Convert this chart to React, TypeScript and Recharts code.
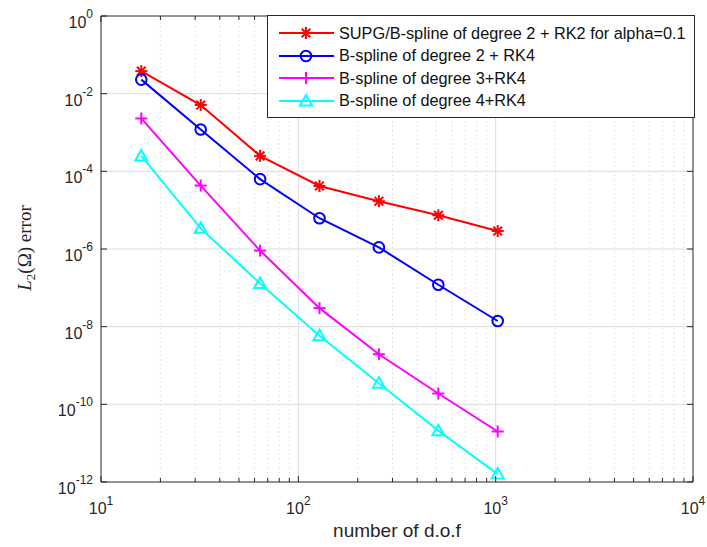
import React from "react";
import { LineChart, Line, XAxis, YAxis, ReferenceLine } from "recharts";

// degrees of freedom (x) and L2 errors per method (y)
const dof = [16, 32, 64, 128, 256, 512, 1024];
const supgRk2 = [3.8e-2, 5.1e-3, 2.5e-4, 4.2e-5, 1.7e-5, 7.4e-6, 2.9e-6];
const deg2Rk4 = [2.3e-2, 1.2e-3, 6.3e-5, 6.2e-6, 1.1e-6, 1.2e-7, 1.4e-8];
const deg3Rk4 = [2.3e-3, 4.3e-5, 9.1e-7, 3.0e-8, 1.95e-9, 1.9e-10, 2.0e-11];
const deg4Rk4 = [2.5e-4, 3.4e-6, 1.3e-7, 5.8e-9, 3.5e-10, 2.1e-11, 1.6e-12];

const xMajor = [10, 100, 1000, 10000];
const xMinor = [
  20, 30, 40, 50, 60, 70, 80, 90,
  200, 300, 400, 500, 600, 700, 800, 900,
  2000, 3000, 4000, 5000, 6000, 7000, 8000, 9000,
];
const yMajor = [1e-12, 1e-10, 1e-8, 1e-6, 1e-4, 1e-2, 1];

const seriesNames = [
  "SUPG/B-spline of degree 2 + RK2 for alpha=0.1",
  "B-spline of degree 2 + RK4",
  "B-spline of degree 3+RK4",
  "B-spline of degree 4+RK4",
];

const data = dof.map((d, i) => ({
  dof: d,
  supg: supgRk2[i],
  b2: deg2Rk4[i],
  b3: deg3Rk4[i],
  b4: deg4Rk4[i],
}));

const AXIS = "#262626";
const SANS = '"Liberation Sans", Arial, Helvetica, sans-serif';
const SERIF = '"Liberation Serif", "DejaVu Serif", serif';
const MAJOR_GRID = "#dcdcdc";
const MINOR_GRID = "#cfcfcf";

const expOf = (v: number) => Math.round(Math.log10(v));

type MarkerKind = "asterisk" | "circle" | "plus" | "triangle";

function Marker({ cx, cy, color, kind }: { cx: number; cy: number; color: string; kind: MarkerKind }) {
  if (cx == null || cy == null) return null;
  const p = { stroke: color, strokeWidth: 2, fill: "none" };
  if (kind === "circle") return <circle cx={cx} cy={cy} r={5.3} {...p} />;
  if (kind === "plus") {
    const s = 6;
    return (
      <g {...p}>
        <line x1={cx - s} x2={cx + s} y1={cy} y2={cy} />
        <line x1={cx} x2={cx} y1={cy - s} y2={cy + s} />
      </g>
    );
  }
  if (kind === "triangle") {
    const s = 6;
    return <polygon points={`${cx},${cy - s} ${cx + s},${cy + s * 0.75} ${cx - s},${cy + s * 0.75}`} {...p} />;
  }
  const s = 6;
  const d = s * 0.72;
  return (
    <g {...p}>
      <line x1={cx - s} x2={cx + s} y1={cy} y2={cy} />
      <line x1={cx} x2={cx} y1={cy - s} y2={cy + s} />
      <line x1={cx - d} x2={cx + d} y1={cy - d} y2={cy + d} />
      <line x1={cx - d} x2={cx + d} y1={cy + d} y2={cy - d} />
    </g>
  );
}

const series: { key: string; color: string; kind: MarkerKind }[] = [
  { key: "supg", color: "#ff0000", kind: "asterisk" },
  { key: "b2", color: "#0000ff", kind: "circle" },
  { key: "b3", color: "#ff00ff", kind: "plus" },
  { key: "b4", color: "#00ffff", kind: "triangle" },
];

function BottomTick({ x, y, payload }: any) {
  const major = xMajor.includes(payload.value);
  return (
    <g>
      <line x1={x} x2={x} y1={y} y2={y - (major ? 6 : 4)} stroke={AXIS} />
      {major && (
        <text x={x} y={y + 32} textAnchor="middle" fontSize={16} fontFamily={SANS} fill={AXIS}>
          10
          <tspan dy={-9} fontSize={12}>{expOf(payload.value)}</tspan>
        </text>
      )}
    </g>
  );
}

function TopTick({ x, y, payload }: any) {
  const major = xMajor.includes(payload.value);
  return <line x1={x} x2={x} y1={y} y2={y + (major ? 6 : 4)} stroke={AXIS} />;
}

function LeftTick({ x, y, payload }: any) {
  return (
    <g>
      <line x1={x} x2={x + 6} y1={y} y2={y} stroke={AXIS} />
      <text x={x - 8} y={y + 12} textAnchor="end" fontSize={16} fontFamily={SANS} fill={AXIS}>
        10
        <tspan dy={-10} fontSize={12}>{expOf(payload.value)}</tspan>
      </text>
    </g>
  );
}

function RightTick({ x, y }: any) {
  return <line x1={x} x2={x - 6} y1={y} y2={y} stroke={AXIS} />;
}

function LegendBox() {
  return (
    <div
      style={{
        position: "absolute",
        left: 267,
        top: 15,
        width: 426,
        height: 101,
        border: `1px solid ${AXIS}`,
        background: "#fff",
        fontFamily: SANS,
        fontSize: 16.3,
        color: "#111",
      }}
    >
      {series.map((s, i) => (
        <div key={s.key} style={{ position: "absolute", left: 0, top: 6 + i * 22.5, height: 22, display: "flex", alignItems: "center" }}>
          <svg width={70} height={22} style={{ display: "block" }}>
            <line x1={11} x2={66} y1={11} y2={11} stroke={s.color} strokeWidth={2} />
            <Marker cx={38} cy={11} color={s.color} kind={s.kind} />
          </svg>
          <span style={{ marginLeft: 1, whiteSpace: "nowrap" }}>{seriesNames[i]}</span>
        </div>
      ))}
    </div>
  );
}

const xAxisCommon = {
  dataKey: "dof",
  type: "number" as const,
  scale: "log" as const,
  domain: [10, 10000],
  allowDataOverflow: true,
  ticks: [...xMajor, ...xMinor],
  interval: 0 as const,
  height: 1,
  tickSize: 0,
  tickMargin: 0,
  tickLine: false,
  axisLine: { stroke: AXIS },
};

const yAxisCommon = {
  type: "number" as const,
  scale: "log" as const,
  domain: [1e-12, 1],
  allowDataOverflow: true,
  ticks: yMajor,
  interval: 0 as const,
  width: 1,
  tickSize: 0,
  tickMargin: 0,
  tickLine: false,
  axisLine: { stroke: AXIS },
};

export default function App() {
  return (
    <div style={{ position: "absolute", left: 0, top: 0, width: 707, height: 547, background: "#fff" }}>
      <LineChart width={707} height={547} data={data} margin={{ top: 15, right: 13, bottom: 64, left: 100 }}>
        <XAxis xAxisId="b" {...xAxisCommon} tick={<BottomTick />} />
        <XAxis xAxisId="t" orientation="top" {...xAxisCommon} tick={<TopTick />} />
        <YAxis yAxisId="l" {...yAxisCommon} tick={<LeftTick />} />
        <YAxis yAxisId="r" orientation="right" {...yAxisCommon} tick={<RightTick />} />
        {xMinor.map((v) => (
          <ReferenceLine key={`mx${v}`} xAxisId="b" yAxisId="l" x={v} stroke={MINOR_GRID} strokeDasharray="1 3.5" />
        ))}
        {xMajor.slice(1, -1).map((v) => (
          <ReferenceLine key={`Mx${v}`} xAxisId="b" yAxisId="l" x={v} stroke={MAJOR_GRID} />
        ))}
        {yMajor.slice(1, -1).map((v) => (
          <ReferenceLine key={`My${v}`} xAxisId="b" yAxisId="l" y={v} stroke={MAJOR_GRID} />
        ))}
        {series.map((s) => (
          <Line
            key={s.key}
            xAxisId="b"
            yAxisId="l"
            dataKey={s.key}
            stroke={s.color}
            strokeWidth={2}
            isAnimationActive={false}
            dot={(p: any) => <Marker key={`${s.key}${p.index}`} cx={p.cx} cy={p.cy} color={s.color} kind={s.kind} />}
            activeDot={false}
          />
        ))}
      </LineChart>
      <svg width={707} height={547} style={{ position: "absolute", left: 0, top: 0, pointerEvents: "none" }}>
        <text x={397} y={537} textAnchor="middle" fontSize={19} fontFamily={SANS} fill={AXIS}>
          number of d.o.f
        </text>
        <text x={31} y={248} transform="rotate(-90 31 248)" textAnchor="middle" fontSize={19} fontFamily={SERIF} fill={AXIS}>
          <tspan fontStyle="italic">L</tspan>
          <tspan dy={4} fontSize={13}>2</tspan>
          <tspan dy={-4}>(Ω) error</tspan>
        </text>
      </svg>
      <LegendBox />
    </div>
  );
}
